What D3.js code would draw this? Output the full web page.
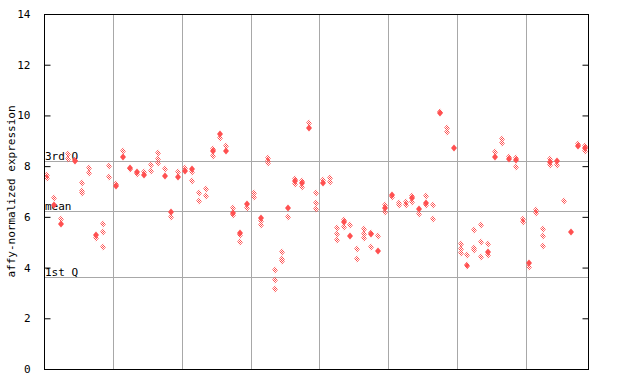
<!DOCTYPE html>
<html>
<head>
<meta charset="utf-8">
<script src="https://cdn.jsdelivr.net/npm/d3@7"></script>
<style>
  body { margin: 0; background: #fff; }
  text { font-family: "DejaVu Sans Mono", monospace; font-size: 11px; fill: #000; }
</style>
</head>
<body>
<svg id="chart" width="640" height="384"></svg>
<script>
// y axis ticks
const yTicks = [0, 2, 4, 6, 8, 10, 12, 14];

// reference lines
const refNames = ["3rd Q", "mean", "1st Q"];
const refValues = [8.21, 6.22, 3.62];

// samples are grouped in blocks of 10 (79 samples in total)
const groupBreaks = [10, 20, 30, 40, 50, 60, 70];

// hatched (open) points per sample
const openPoints = [
  [7.65, 7.55], [6.73], [5.9], [8.48, 8.27], [8.23], [7.32, 7.02, 6.95], [7.91, 7.74], [5.15], [5.72, 5.39, 4.8], [8.0, 7.56],
  [7.29], [8.61], [7.9], [7.69], [7.75], [8.04, 7.79], [8.5, 8.3, 8.11], [7.87], [6.0], [7.77],
  [7.91], [7.78, 7.41], [6.93, 6.62], [7.1, 6.81], [8.66, 8.39], [9.1], [8.79], [6.34, 6.07], [5.3, 5.0], [6.34],
  [6.93, 6.8], [5.85, 5.68], [8.34, 8.22, 8.12], [3.89, 3.5, 3.14], [4.6, 4.33, 4.27], [5.98], [7.5, 7.28], [7.41, 7.19], [9.69], [6.93, 6.53, 6.3],
  [7.45], [7.54, 7.37], [5.58, 5.31, 5.07], [5.88, 5.61], [5.68], [4.72, 4.33], [5.52, 5.34, 5.15], [5.37, 4.8], [5.23], [6.45, 6.18],
  [6.8], [6.53, 6.45], [6.6, 6.47], [6.82, 6.6], [6.11], [6.82, 6.45], [6.45, 5.9], [10.15], [9.49, 9.33], [],
  [4.93, 4.72, 4.56], [4.48, 4.12, 4.05], [5.47, 4.76, 4.7], [5.66, 5.0, 4.41], [4.92, 4.48], [8.56], [9.06, 8.92], [8.37], [8.33, 7.95], [5.9, 5.78],
  [4.01], [6.27, 6.14], [5.51, 5.23, 4.84], [8.3, 8.03], [8.03], [6.61], [], [8.86], [8.8, 8.6]
];

// solid points per sample (null = none)
const solidPoints = [
  null, 6.47, 5.73, null, 8.19, null, null, 5.28, null, null,
  7.22, 8.37, 7.94, 7.78, 7.66, null, null, 7.62, 6.2, 7.58,
  7.81, 7.87, null, null, 8.58, 9.25, 8.61, 6.16, 5.35, 6.5,
  null, 5.94, null, null, null, 6.36, 7.41, 7.32, 9.52, null,
  7.32, null, null, 5.78, 5.26, null, null, 5.31, 4.67, 6.36,
  6.86, null, null, 6.73, 6.31, 6.53, null, 10.1, null, 8.73,
  null, null, null, null, 4.6, 8.37, null, 8.3, 8.24, null,
  4.2, null, null, 8.15, 8.22, null, 5.39, 8.8, 8.7
];

const svg = d3.select("#chart");
const padding = { top: 14, right: 52, bottom: 15, left: 44 };
const width = +svg.attr("width");
const height = +svg.attr("height");
const red = "#ff5050";

const xScale = d3.scaleLinear()
  .domain([0, openPoints.length])
  .range([padding.left, width - padding.right]);

const yScale = d3.scaleLinear()
  .domain([0, 14])
  .range([height - padding.bottom, padding.top]);

// checker pattern for the open points
const defs = svg.append("defs");
const pat = defs.append("pattern")
  .attr("id", "checker")
  .attr("patternUnits", "userSpaceOnUse")
  .attr("width", 2)
  .attr("height", 2);
pat.append("rect").attr("x", 0).attr("y", 0).attr("width", 1).attr("height", 1).attr("fill", red);
pat.append("rect").attr("x", 1).attr("y", 1).attr("width", 1).attr("height", 1).attr("fill", red);

// grid lines
svg.append("g")
  .selectAll("line")
  .data(groupBreaks)
  .enter()
  .append("line")
  .attr("x1", d => Math.round(xScale(d)) + 0.5)
  .attr("x2", d => Math.round(xScale(d)) + 0.5)
  .attr("y1", yScale(14))
  .attr("y2", yScale(0))
  .attr("stroke", "#a8a8a8");

svg.append("g")
  .selectAll("line")
  .data(refValues)
  .enter()
  .append("line")
  .attr("x1", xScale(0))
  .attr("x2", xScale(openPoints.length))
  .attr("y1", d => Math.round(yScale(d)) + 0.5)
  .attr("y2", d => Math.round(yScale(d)) + 0.5)
  .attr("stroke", "#a8a8a8");

svg.append("g")
  .selectAll("text")
  .data(refNames)
  .enter()
  .append("text")
  .attr("x", xScale(0) + 1)
  .attr("y", (d, i) => Math.round(yScale(refValues[i])) - 1)
  .text(d => d);

// points
const diamond = "M0,-3.5L3,0L0,3.5L-3,0Z";

const openData = [];
openPoints.forEach((vals, i) => vals.forEach(v => openData.push({ i, v })));
const solidData = solidPoints
  .map((v, i) => ({ i, v }))
  .filter(d => d.v !== null);

svg.append("g")
  .selectAll("path")
  .data(openData)
  .enter()
  .append("path")
  .attr("d", diamond)
  .attr("transform", d => `translate(${Math.round(xScale(d.i + 0.5))},${Math.round(yScale(d.v))})`)
  .attr("fill", "url(#checker)")
  .attr("stroke", "none");

svg.append("g")
  .selectAll("path")
  .data(solidData)
  .enter()
  .append("path")
  .attr("d", diamond)
  .attr("transform", d => `translate(${Math.round(xScale(d.i + 0.5))},${Math.round(yScale(d.v))})`)
  .attr("fill", red);

// frame
svg.append("rect")
  .attr("x", padding.left + 0.5)
  .attr("y", padding.top + 0.5)
  .attr("width", xScale(openPoints.length) - padding.left)
  .attr("height", yScale(0) - padding.top)
  .attr("fill", "none")
  .attr("stroke", "#000");

// axes, ticks inward
const yAxis = d3.axisLeft(yScale).tickValues(yTicks).tickSize(-6).tickPadding(14);
svg.append("g")
  .attr("class", "y-axis")
  .attr("transform", `translate(${padding.left + 0.5},0)`)
  .call(yAxis)
  .call(g => g.select(".domain").remove())
  .call(g => g.selectAll("text").style("font-family", "DejaVu Sans Mono").style("font-size", "11px"));

const yAxisR = d3.axisRight(yScale).tickValues(yTicks).tickSize(-6).tickFormat("");
svg.append("g")
  .attr("transform", `translate(${xScale(openPoints.length) + 0.5},0)`)
  .call(yAxisR)
  .call(g => g.select(".domain").remove());

svg.append("text")
  .attr("transform", "rotate(-90)")
  .attr("x", -(padding.top + yScale(0)) / 2)
  .attr("y", 15)
  .style("text-anchor", "middle")
  .text("affy-normalized expression");
</script>
</body>
</html>
